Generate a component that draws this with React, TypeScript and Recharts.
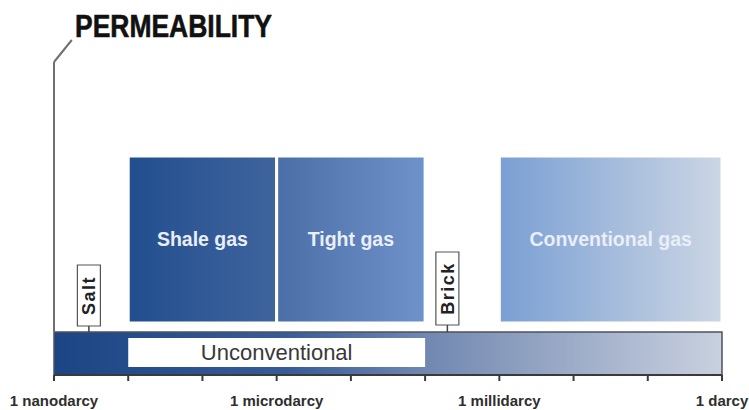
import React from 'react';
import {
  ComposedChart,
  XAxis,
  YAxis,
  Line,
  ReferenceArea,
  ReferenceLine,
} from 'recharts';

// log10(permeability in darcy)
const axisTicks = [-9, -8, -7, -6, -5, -4, -3, -2, -1, 0];
const labelTicks = [-9, -6, -3, 0];
const labelNames = ['1 nanodarcy', '1 microdarcy', '1 millidarcy', '1 darcy'];

const gasNames = ['Shale gas', 'Tight gas', 'Conventional gas'];
const gasFrom = [-8, -6, -3];
const gasTo = [-6, -4, 0];

const unconventionalRange = [-8, -4];

const materialNames = ['Salt', 'Brick'];
const materialValues = [-8.53, -3.7];

const W = 749;
const H = 410;
const FONT = '"Liberation Sans", Arial, sans-serif';

// vertical bands (chart y units, 0 = bottom of plot)
const BAR = [0, 43];
const BOX = [52, 219];
const INNER = [8, 37];
const LABEL_BOX = [
  [49, 110],
  [50, 123],
];
const LABEL_HALF = 0.155;

const gradIds = ['gShale', 'gTight', 'gConv'];

const CustomTick = (props: any) => {
  const { x, y, payload } = props;
  const i = labelTicks.indexOf(payload.value);
  if (i < 0) return <g />;
  return (
    <text
      x={x}
      y={y + 23}
      textAnchor="middle"
      fontFamily={FONT}
      fontWeight="bold"
      fontSize={15}
      fill="#2e2e2e"
    >
      {labelNames[i]}
    </text>
  );
};

export default function App() {
  const rows = axisTicks.map((t) => ({ t, base: 0 }));
  return (
    <div style={{ position: 'absolute', left: 0, top: 0, width: W, height: H, background: '#fff' }}>
      <ComposedChart
        width={W}
        height={H}
        data={rows}
        margin={{ top: 0, right: 27, bottom: 0, left: 54 }}
      >
        <defs>
          <linearGradient id="gBar" x1="0" y1="0" x2="1" y2="0">
            <stop offset="0%" stopColor="#1c4585" />
            <stop offset="35%" stopColor="#375c98" />
            <stop offset="56%" stopColor="#7288b1" />
            <stop offset="100%" stopColor="#c9d1df" />
          </linearGradient>
          <linearGradient id="gShale" x1="0" y1="0" x2="1" y2="0">
            <stop offset="0%" stopColor="#224e8e" />
            <stop offset="100%" stopColor="#3f649d" />
          </linearGradient>
          <linearGradient id="gTight" x1="0" y1="0" x2="1" y2="0">
            <stop offset="0%" stopColor="#4b6ea6" />
            <stop offset="100%" stopColor="#6e92c9" />
          </linearGradient>
          <linearGradient id="gConv" x1="0" y1="0" x2="1" y2="0">
            <stop offset="0%" stopColor="#7a9fd3" />
            <stop offset="100%" stopColor="#ccd6e4" />
          </linearGradient>
        </defs>
        <XAxis
          dataKey="t"
          type="number"
          domain={[-9, 0]}
          ticks={axisTicks}
          interval={0}
          height={35}
          axisLine={{ stroke: '#3a3a3a', strokeWidth: 2 }}
          tickLine={{ stroke: '#3a3a3a', strokeWidth: 2 }}
          tickSize={6}
          tick={<CustomTick />}
        />
        <YAxis type="number" domain={[0, 375]} allowDataOverflow hide width={0} />
        <Line dataKey="base" stroke="none" dot={false} activeDot={false} isAnimationActive={false} />

        {/* bottom permeability bar */}
        <ReferenceArea
          x1={-9}
          x2={0}
          y1={BAR[0]}
          y2={BAR[1]}
          fill="url(#gBar)"
          fillOpacity={1}
          stroke="#4d525c"
          strokeWidth={1.5}
        />
        <ReferenceArea
          x1={unconventionalRange[0]}
          x2={unconventionalRange[1]}
          y1={INNER[0]}
          y2={INNER[1]}
          fill="#ffffff"
          fillOpacity={1}
          label={{
            value: 'Unconventional',
            position: 'center',
            fill: '#383838',
            fontSize: 22,
            fontFamily: FONT,
          }}
        />

        {/* gas boxes */}
        {gasNames.map((name, i) => (
          <ReferenceArea
            key={name}
            x1={gasFrom[i]}
            x2={gasTo[i]}
            y1={BOX[0]}
            y2={BOX[1]}
            fill={`url(#${gradIds[i]})`}
            fillOpacity={1}
            stroke="#ffffff"
            strokeWidth={3}
            label={{
              value: name,
              position: 'center',
              fill: '#e9eef7',
              fontSize: 19.5,
              fontWeight: 'bold',
              fontFamily: FONT,
            }}
          />
        ))}

        {/* reference materials */}
        {materialNames.map((name, i) => (
          <ReferenceLine
            key={name + 'stem'}
            segment={[
              { x: materialValues[i], y: BAR[1] },
              { x: materialValues[i], y: LABEL_BOX[i][0] },
            ]}
            stroke="#444"
            strokeWidth={1.5}
          />
        ))}
        {materialNames.map((name, i) => (
          <ReferenceArea
            key={name}
            x1={materialValues[i] - LABEL_HALF}
            x2={materialValues[i] + LABEL_HALF}
            y1={LABEL_BOX[i][0]}
            y2={LABEL_BOX[i][1]}
            fill="#ffffff"
            fillOpacity={1}
            stroke="#555"
            strokeWidth={1.2}
            label={{
              value: name,
              position: 'center',
              angle: -90,
              fill: '#222',
              fontSize: 18,
              fontWeight: 'bold',
              letterSpacing: 1.5,
              fontFamily: FONT,
            }}
          />
        ))}

        {/* leader line to title */}
        <ReferenceLine
          segment={[
            { x: -9, y: BAR[1] },
            { x: -9, y: 313 },
          ]}
          stroke="#707070"
          strokeWidth={2}
          ifOverflow="visible"
        />
        <ReferenceLine
          segment={[
            { x: -9, y: 313 },
            { x: -8.76, y: 335 },
          ]}
          stroke="#707070"
          strokeWidth={2}
          ifOverflow="visible"
        />
      </ComposedChart>
      <svg
        width={W}
        height={60}
        style={{ position: 'absolute', left: 0, top: 0, pointerEvents: 'none' }}
      >
        <text
          x={75}
          y={37}
          fontFamily={FONT}
          fontWeight="bold"
          fontSize={32}
          fill="#111"
          stroke="#111"
          strokeWidth={0.6}
          textLength={197}
          lengthAdjust="spacingAndGlyphs"
        >
          PERMEABILITY
        </text>
      </svg>
    </div>
  );
}
